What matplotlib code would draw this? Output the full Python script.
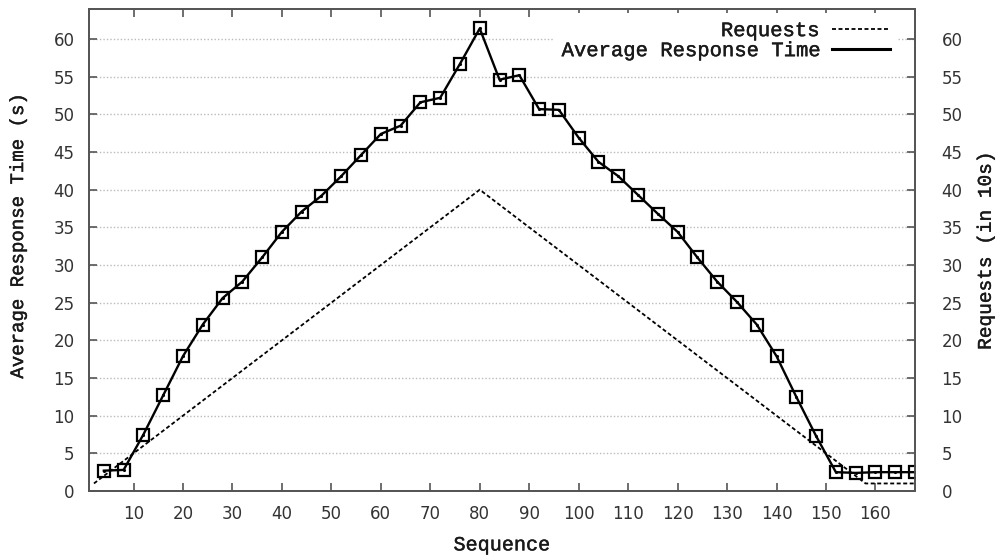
import matplotlib
matplotlib.use('Agg')
import matplotlib.pyplot as plt
import matplotlib.patheffects as pe
from matplotlib.lines import Line2D

# Datos
seq = [4, 8, 12, 16, 20, 24, 28, 32, 36, 40, 44, 48, 52, 56, 60, 64, 68, 72, 76, 80,
       84, 88, 92, 96, 100, 104, 108, 112, 116, 120, 124, 128, 132, 136, 140, 144,
       148, 152, 156, 160, 164, 168]
resp = [2.7, 2.8, 7.5, 12.7, 17.9, 22.1, 25.6, 27.8, 31.0, 34.4, 37.1, 39.2, 41.8,
        44.6, 47.4, 48.5, 51.6, 52.2, 56.7, 61.4, 54.6, 55.2, 50.7, 50.6, 46.9, 43.7,
        41.8, 39.3, 36.8, 34.4, 31.0, 27.8, 25.1, 22.1, 17.9, 12.5, 7.3, 2.5, 2.4,
        2.5, 2.5, 2.5]
req_seq = [2, 80, 158, 168]
req_val = [1, 40, 1, 1]

yticks = list(range(0, 61, 5))
xticks = list(range(10, 161, 10))

mono = 'Liberation Mono'
gris = '#555555'
texto = '#1a1a1a'
# trazo fino extra para engrosar apenas el Courier
grueso = [pe.withStroke(linewidth=0.3, foreground=texto)]

fig = plt.figure(figsize=(10, 5.57), dpi=100)
ax = fig.add_axes([0.089, 0.1185, 0.826, 0.8655])
ax2 = ax.twinx()

ax.plot(seq, resp, color='black', lw=1.7, marker='s', ms=8, mfc='none',
        mec='black', mew=1.6, zorder=4)
ax.plot(seq, resp, color='black', lw=0, marker='.', ms=2.5, zorder=5)
ax2.plot(req_seq, req_val, color='black', lw=1.3, linestyle=(0, (2.2, 1.4)), zorder=3)

for a in (ax, ax2):
    a.set_xlim(1, 168)
    a.set_ylim(0, 64)
    a.set_yticks(yticks)
    a.tick_params(direction='in', length=6, width=1.2, color=gris,
                  labelsize=12, labelcolor='#333333')
    for s in a.spines.values():
        s.set_color(gris)
        s.set_linewidth(1.3)

ax.set_xticks(xticks)
ax.tick_params(axis='x', top=True, pad=10)
ax.tick_params(axis='y', pad=10.5)
ax2.tick_params(axis='y', pad=19)
ax.grid(axis='y', color='#bbbbbb', linestyle=(0, (1, 1.5)), linewidth=1)
ax.set_axisbelow(True)

ax.set_xlabel('Sequence', fontfamily=mono, fontsize=14.5, color=texto,
              labelpad=9, path_effects=grueso)
ax.set_ylabel('Average Response Time (s)', fontfamily=mono, fontsize=13.7,
              color=texto, path_effects=grueso)
ax.yaxis.set_label_coords(-0.075, 0.528)
ax2.set_ylabel('Requests (in 10s)', fontfamily=mono, fontsize=14,
               color=texto, labelpad=11, path_effects=grueso)

handles = [Line2D([], [], color='black', lw=1.3, linestyle=(0, (2.2, 1.4))),
           Line2D([], [], color='black', lw=2.2)]
leg = ax2.legend(handles, ['Requests', 'Average Response Time'], loc='upper right',
                 bbox_to_anchor=(1 - 17 / 826, 1 - 4 / 482),
                 markerfirst=False, handlelength=2.8, handletextpad=0.65,
                 labelspacing=0.05, borderaxespad=0, borderpad=0.4,
                 prop={'family': mono, 'size': 14.8},
                 frameon=True, fancybox=False)
leg.get_frame().set_edgecolor('none')
leg.get_frame().set_facecolor('white')
leg.get_frame().set_alpha(1)
for t in leg.get_texts():
    t.set_color(texto)
    t.set_path_effects(grueso)

plt.savefig('out.png', dpi=100)
plt.close()
